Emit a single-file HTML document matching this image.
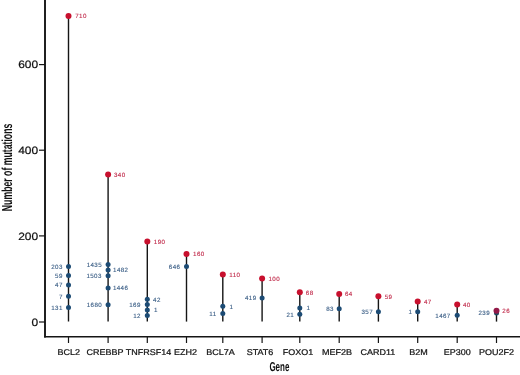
<!DOCTYPE html>
<html><head><meta charset="utf-8"><style>
html,body{margin:0;padding:0;background:#fff;width:520px;height:375px;overflow:hidden}
svg{display:block;will-change:transform}
text{font-family:"Liberation Sans",sans-serif;text-rendering:geometricPrecision}
.s{letter-spacing:0.4px;stroke-width:0.12px}
</style></head><body>
<svg width="520" height="375" viewBox="0 0 520 375">
<rect width="520" height="375" fill="#fff"/>

<line x1="45.0" y1="0" x2="45.0" y2="337.6" stroke="#151515" stroke-width="1.9"/>
<line x1="44.05" y1="336.7" x2="520" y2="336.7" stroke="#151515" stroke-width="1.6"/>
<line x1="39" y1="322.00" x2="45.0" y2="322.00" stroke="#151515" stroke-width="1.2"/>
<text transform="translate(38.2,325.80) scale(1.13,1)" font-size="10.6" text-anchor="end" fill="#111" stroke="#111" stroke-width="0.2">0</text>
<line x1="39" y1="235.90" x2="45.0" y2="235.90" stroke="#151515" stroke-width="1.2"/>
<text transform="translate(38.2,239.70) scale(1.13,1)" font-size="10.6" text-anchor="end" fill="#111" stroke="#111" stroke-width="0.2">200</text>
<line x1="39" y1="150.20" x2="45.0" y2="150.20" stroke="#151515" stroke-width="1.2"/>
<text transform="translate(38.2,154.00) scale(1.13,1)" font-size="10.6" text-anchor="end" fill="#111" stroke="#111" stroke-width="0.2">400</text>
<line x1="39" y1="64.60" x2="45.0" y2="64.60" stroke="#151515" stroke-width="1.2"/>
<text transform="translate(38.2,68.40) scale(1.13,1)" font-size="10.6" text-anchor="end" fill="#111" stroke="#111" stroke-width="0.2">600</text>
<text transform="translate(11.8,211.2) rotate(-90) scale(0.6,1)" font-size="14.5" font-weight="bold" fill="#111">Number of mutations</text>
<text transform="translate(269.4,371.4) scale(0.62,1)" font-size="12.9" font-weight="bold" fill="#111">Gene</text>
<line x1="68.5" y1="337" x2="68.5" y2="343" stroke="#151515" stroke-width="1.2"/>
<text transform="translate(68.7,354.9) scale(1.075,1)" font-size="8.4" text-anchor="middle" fill="#111" stroke="#111" stroke-width="0.22">BCL2</text>
<line x1="68.5" y1="15.9" x2="68.5" y2="321.6" stroke="#151515" stroke-width="1.4"/>
<line x1="108.1" y1="337" x2="108.1" y2="343" stroke="#151515" stroke-width="1.2"/>
<text transform="translate(104.9,354.9) scale(1.075,1)" font-size="8.4" text-anchor="middle" fill="#111" stroke="#111" stroke-width="0.22">CREBBP</text>
<line x1="108.1" y1="174.4" x2="108.1" y2="321.6" stroke="#151515" stroke-width="1.4"/>
<line x1="147.3" y1="337" x2="147.3" y2="343" stroke="#151515" stroke-width="1.2"/>
<text transform="translate(148.4,354.9) scale(1.075,1)" font-size="8.4" text-anchor="middle" fill="#111" stroke="#111" stroke-width="0.22">TNFRSF14</text>
<line x1="147.3" y1="241.5" x2="147.3" y2="321.6" stroke="#151515" stroke-width="1.4"/>
<line x1="186.5" y1="337" x2="186.5" y2="343" stroke="#151515" stroke-width="1.2"/>
<text transform="translate(185.4,354.9) scale(1.075,1)" font-size="8.4" text-anchor="middle" fill="#111" stroke="#111" stroke-width="0.22">EZH2</text>
<line x1="186.5" y1="254.1" x2="186.5" y2="321.6" stroke="#151515" stroke-width="1.4"/>
<line x1="222.8" y1="337" x2="222.8" y2="343" stroke="#151515" stroke-width="1.2"/>
<text transform="translate(220.4,354.9) scale(1.075,1)" font-size="8.4" text-anchor="middle" fill="#111" stroke="#111" stroke-width="0.22">BCL7A</text>
<line x1="222.8" y1="274.6" x2="222.8" y2="321.6" stroke="#151515" stroke-width="1.4"/>
<line x1="262.1" y1="337" x2="262.1" y2="343" stroke="#151515" stroke-width="1.2"/>
<text transform="translate(260.0,354.9) scale(1.075,1)" font-size="8.4" text-anchor="middle" fill="#111" stroke="#111" stroke-width="0.22">STAT6</text>
<line x1="262.1" y1="278.6" x2="262.1" y2="321.6" stroke="#151515" stroke-width="1.4"/>
<line x1="299.8" y1="337" x2="299.8" y2="343" stroke="#151515" stroke-width="1.2"/>
<text transform="translate(298.1,354.9) scale(1.075,1)" font-size="8.4" text-anchor="middle" fill="#111" stroke="#111" stroke-width="0.22">FOXO1</text>
<line x1="299.8" y1="292.2" x2="299.8" y2="321.6" stroke="#151515" stroke-width="1.4"/>
<line x1="339.2" y1="337" x2="339.2" y2="343" stroke="#151515" stroke-width="1.2"/>
<text transform="translate(336.9,354.9) scale(1.075,1)" font-size="8.4" text-anchor="middle" fill="#111" stroke="#111" stroke-width="0.22">MEF2B</text>
<line x1="339.2" y1="294.1" x2="339.2" y2="321.6" stroke="#151515" stroke-width="1.4"/>
<line x1="378.4" y1="337" x2="378.4" y2="343" stroke="#151515" stroke-width="1.2"/>
<text transform="translate(377.9,354.9) scale(1.075,1)" font-size="8.4" text-anchor="middle" fill="#111" stroke="#111" stroke-width="0.22">CARD11</text>
<line x1="378.4" y1="296.2" x2="378.4" y2="321.6" stroke="#151515" stroke-width="1.4"/>
<line x1="417.7" y1="337" x2="417.7" y2="343" stroke="#151515" stroke-width="1.2"/>
<text transform="translate(418.5,354.9) scale(1.075,1)" font-size="8.4" text-anchor="middle" fill="#111" stroke="#111" stroke-width="0.22">B2M</text>
<line x1="417.7" y1="301.5" x2="417.7" y2="321.6" stroke="#151515" stroke-width="1.4"/>
<line x1="457.2" y1="337" x2="457.2" y2="343" stroke="#151515" stroke-width="1.2"/>
<text transform="translate(457.2,354.9) scale(1.075,1)" font-size="8.4" text-anchor="middle" fill="#111" stroke="#111" stroke-width="0.22">EP300</text>
<line x1="457.2" y1="304.4" x2="457.2" y2="321.6" stroke="#151515" stroke-width="1.4"/>
<line x1="496.5" y1="337" x2="496.5" y2="343" stroke="#151515" stroke-width="1.2"/>
<text transform="translate(496.6,354.9) scale(1.075,1)" font-size="8.4" text-anchor="middle" fill="#111" stroke="#111" stroke-width="0.22">POU2F2</text>
<line x1="496.5" y1="310.8" x2="496.5" y2="321.6" stroke="#151515" stroke-width="1.4"/>
<circle cx="68.5" cy="266.5" r="2.5" fill="#1c4b74"/>
<text transform="translate(62.8,268.85) scale(1.0,1)" class="s" font-size="6.2" text-anchor="end" fill="#395d85" stroke="#395d85">203</text>
<circle cx="68.5" cy="275.5" r="2.5" fill="#1c4b74"/>
<text transform="translate(62.8,277.85) scale(1.0,1)" class="s" font-size="6.2" text-anchor="end" fill="#395d85" stroke="#395d85">59</text>
<circle cx="68.5" cy="285.1" r="2.5" fill="#1c4b74"/>
<text transform="translate(62.8,287.45) scale(1.0,1)" class="s" font-size="6.2" text-anchor="end" fill="#395d85" stroke="#395d85">47</text>
<circle cx="68.5" cy="296.3" r="2.5" fill="#1c4b74"/>
<text transform="translate(62.8,298.65) scale(1.0,1)" class="s" font-size="6.2" text-anchor="end" fill="#395d85" stroke="#395d85">7</text>
<circle cx="68.5" cy="307.5" r="2.5" fill="#1c4b74"/>
<text transform="translate(62.8,309.85) scale(1.0,1)" class="s" font-size="6.2" text-anchor="end" fill="#395d85" stroke="#395d85">131</text>
<circle cx="68.5" cy="15.9" r="3.0" fill="#c8102e"/>
<text transform="translate(75.2,18.25) scale(1.0,1)" class="s" font-size="6.2" fill="#c02a4a" stroke="#c02a4a">710</text>
<circle cx="108.1" cy="264.6" r="2.5" fill="#1c4b74"/>
<text transform="translate(102.0,266.95) scale(1.0,1)" class="s" font-size="6.2" text-anchor="end" fill="#395d85" stroke="#395d85">1435</text>
<circle cx="108.1" cy="269.9" r="2.5" fill="#1c4b74"/>
<text transform="translate(113.1,272.25) scale(1.0,1)" class="s" font-size="6.2" text-anchor="start" fill="#395d85" stroke="#395d85">1482</text>
<circle cx="108.1" cy="275.8" r="2.5" fill="#1c4b74"/>
<text transform="translate(101.8,278.15) scale(1.0,1)" class="s" font-size="6.2" text-anchor="end" fill="#395d85" stroke="#395d85">1503</text>
<circle cx="108.1" cy="287.9" r="2.5" fill="#1c4b74"/>
<text transform="translate(112.9,290.25) scale(1.0,1)" class="s" font-size="6.2" text-anchor="start" fill="#395d85" stroke="#395d85">1446</text>
<circle cx="108.1" cy="304.7" r="2.5" fill="#1c4b74"/>
<text transform="translate(102.1,307.05) scale(1.0,1)" class="s" font-size="6.2" text-anchor="end" fill="#395d85" stroke="#395d85">1680</text>
<circle cx="108.1" cy="174.4" r="3.0" fill="#c8102e"/>
<text transform="translate(114.0,176.75) scale(1.0,1)" class="s" font-size="6.2" fill="#c02a4a" stroke="#c02a4a">340</text>
<circle cx="147.3" cy="299.3" r="2.5" fill="#1c4b74"/>
<text transform="translate(153.1,301.65) scale(1.0,1)" class="s" font-size="6.2" text-anchor="start" fill="#395d85" stroke="#395d85">42</text>
<circle cx="147.3" cy="304.5" r="2.5" fill="#1c4b74"/>
<text transform="translate(140.8,306.85) scale(1.0,1)" class="s" font-size="6.2" text-anchor="end" fill="#395d85" stroke="#395d85">169</text>
<circle cx="147.3" cy="310.1" r="2.5" fill="#1c4b74"/>
<text transform="translate(154.0,312.45) scale(1.0,1)" class="s" font-size="6.2" text-anchor="start" fill="#395d85" stroke="#395d85">1</text>
<circle cx="147.3" cy="315.4" r="2.5" fill="#1c4b74"/>
<text transform="translate(140.9,317.75) scale(1.0,1)" class="s" font-size="6.2" text-anchor="end" fill="#395d85" stroke="#395d85">12</text>
<circle cx="147.3" cy="241.5" r="3.0" fill="#c8102e"/>
<text transform="translate(153.8,243.85) scale(1.0,1)" class="s" font-size="6.2" fill="#c02a4a" stroke="#c02a4a">190</text>
<circle cx="186.5" cy="266.6" r="2.5" fill="#1c4b74"/>
<text transform="translate(180.4,268.95) scale(1.0,1)" class="s" font-size="6.2" text-anchor="end" fill="#395d85" stroke="#395d85">646</text>
<circle cx="186.5" cy="254.1" r="3.0" fill="#c8102e"/>
<text transform="translate(193.1,256.45) scale(1.0,1)" class="s" font-size="6.2" fill="#c02a4a" stroke="#c02a4a">160</text>
<circle cx="222.8" cy="306.2" r="2.5" fill="#1c4b74"/>
<text transform="translate(229.4,308.55) scale(1.0,1)" class="s" font-size="6.2" text-anchor="start" fill="#395d85" stroke="#395d85">1</text>
<circle cx="222.8" cy="313.4" r="2.5" fill="#1c4b74"/>
<text transform="translate(216.5,315.75) scale(1.0,1)" class="s" font-size="6.2" text-anchor="end" fill="#395d85" stroke="#395d85">11</text>
<circle cx="222.8" cy="274.6" r="3.0" fill="#c8102e"/>
<text transform="translate(229.3,276.95) scale(1.0,1)" class="s" font-size="6.2" fill="#c02a4a" stroke="#c02a4a">110</text>
<circle cx="262.1" cy="297.9" r="2.5" fill="#1c4b74"/>
<text transform="translate(256.5,300.25) scale(1.0,1)" class="s" font-size="6.2" text-anchor="end" fill="#395d85" stroke="#395d85">419</text>
<circle cx="262.1" cy="278.6" r="3.0" fill="#c8102e"/>
<text transform="translate(268.5,280.95) scale(1.0,1)" class="s" font-size="6.2" fill="#c02a4a" stroke="#c02a4a">100</text>
<circle cx="299.8" cy="307.9" r="2.5" fill="#1c4b74"/>
<text transform="translate(306.6,310.25) scale(1.0,1)" class="s" font-size="6.2" text-anchor="start" fill="#395d85" stroke="#395d85">1</text>
<circle cx="299.8" cy="314.2" r="2.5" fill="#1c4b74"/>
<text transform="translate(294.1,316.55) scale(1.0,1)" class="s" font-size="6.2" text-anchor="end" fill="#395d85" stroke="#395d85">21</text>
<circle cx="299.8" cy="292.2" r="3.0" fill="#c8102e"/>
<text transform="translate(305.8,294.55) scale(1.0,1)" class="s" font-size="6.2" fill="#c02a4a" stroke="#c02a4a">68</text>
<circle cx="339.2" cy="308.8" r="2.5" fill="#1c4b74"/>
<text transform="translate(333.9,311.15) scale(1.0,1)" class="s" font-size="6.2" text-anchor="end" fill="#395d85" stroke="#395d85">83</text>
<circle cx="339.2" cy="294.1" r="3.0" fill="#c8102e"/>
<text transform="translate(345.0,296.45) scale(1.0,1)" class="s" font-size="6.2" fill="#c02a4a" stroke="#c02a4a">64</text>
<circle cx="378.4" cy="311.8" r="2.5" fill="#1c4b74"/>
<text transform="translate(373.0,314.15) scale(1.0,1)" class="s" font-size="6.2" text-anchor="end" fill="#395d85" stroke="#395d85">357</text>
<circle cx="378.4" cy="296.2" r="3.0" fill="#c8102e"/>
<text transform="translate(384.7,298.55) scale(1.0,1)" class="s" font-size="6.2" fill="#c02a4a" stroke="#c02a4a">59</text>
<circle cx="417.7" cy="311.7" r="2.5" fill="#1c4b74"/>
<text transform="translate(412.3,314.05) scale(1.0,1)" class="s" font-size="6.2" text-anchor="end" fill="#395d85" stroke="#395d85">1</text>
<circle cx="417.7" cy="301.5" r="3.0" fill="#c8102e"/>
<text transform="translate(424.0,303.85) scale(1.0,1)" class="s" font-size="6.2" fill="#c02a4a" stroke="#c02a4a">47</text>
<circle cx="457.2" cy="315.2" r="2.5" fill="#1c4b74"/>
<text transform="translate(450.7,317.55) scale(1.0,1)" class="s" font-size="6.2" text-anchor="end" fill="#395d85" stroke="#395d85">1467</text>
<circle cx="457.2" cy="304.4" r="3.0" fill="#c8102e"/>
<text transform="translate(463.0,306.75) scale(1.0,1)" class="s" font-size="6.2" fill="#c02a4a" stroke="#c02a4a">40</text>
<circle cx="496.5" cy="313.0" r="2.5" fill="#1b4a5e"/>
<text transform="translate(490.0,315.35) scale(1.0,1)" class="s" font-size="6.2" text-anchor="end" fill="#395d85" stroke="#395d85">239</text>
<circle cx="496.5" cy="310.8" r="3.0" fill="#931a48"/>
<text transform="translate(502.3,313.15) scale(1.0,1)" class="s" font-size="6.2" fill="#c02a4a" stroke="#c02a4a">26</text>
</svg></body></html>
